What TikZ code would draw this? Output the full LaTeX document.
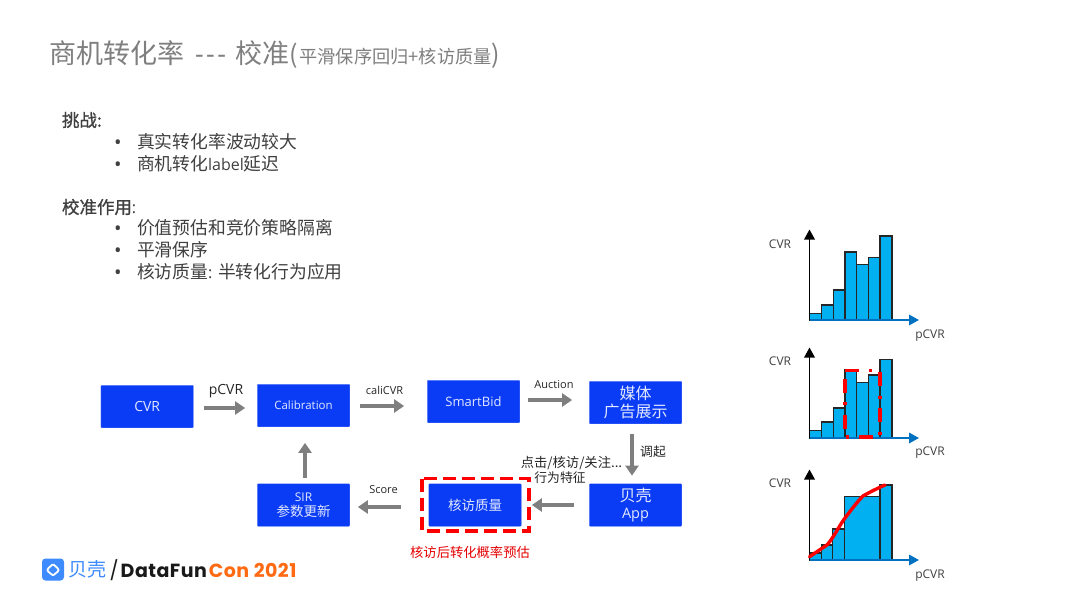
\documentclass[tikz,border=0pt]{standalone}
\usepackage{fontspec}
\setmainfont{Open Sans}
\newfontfamily\cjk{Noto Sans CJK SC}
\newfontfamily\logofont{Poppins}
\usetikzlibrary{arrows.meta,calc}
\definecolor{boxblue}{HTML}{0B3CF5}
\definecolor{barblue}{HTML}{00B0F0}
\definecolor{axisblue}{HTML}{0070C0}
\definecolor{flowgray}{HTML}{7F7F7F}
\definecolor{titlegray}{HTML}{7F7F7F}
\definecolor{bodygray}{HTML}{404040}
\definecolor{logoblue}{HTML}{3D8BFF}
\definecolor{logoorange}{HTML}{FF6A13}
\newcommand{\fs}[1]{\fontsize{#1}{#1}\selectfont}
\tikzset{
  x=1pt,y=-1pt,
  txt/.style={inner sep=0pt,outer sep=0pt,anchor=west,text=bodygray},
  lab/.style={inner sep=0pt,outer sep=0pt,text=black!85},
  flowbox/.style={fill=boxblue,draw=boxblue!70!white,line width=0.3pt,rounded corners=0.8pt,minimum width=92.5pt,minimum height=42.5pt,inner sep=0pt,text=white!88!boxblue,align=center},
  flow/.style={draw=flowgray,line width=3.2pt,-{Triangle[length=10pt,width=13pt]}},
  bar/.style={fill=barblue,draw=black!85,line width=1.2pt},
  yax/.style={draw=black,line width=1.8pt,-{Triangle[length=10pt,width=10.5pt]}},
  xax/.style={draw=axisblue,line width=1.8pt,-{Triangle[length=10pt,width=10.5pt]}},
  axl/.style={inner sep=0pt,outer sep=0pt,text=bodygray,font=\fs{12}},
  bul/.style={inner sep=0pt,outer sep=0pt,anchor=base,text=bodygray,font=\fs{20}},
}
\begin{document}
\begin{tikzpicture}
\useasboundingbox (0,0) rectangle (1080,608);
\fill[white] (0,0) rectangle (1080,608);
% title
\node[txt,text=titlegray] (title) at (49,55) {\fs{27}\cjk 商机转化率\hspace{11pt}\rmfamily -\hspace{2.5pt}-\hspace{2.5pt}-\hspace{9pt}\cjk 校准\fs{25}(\hspace{2pt}\fs{18.2}平滑保序回归+核访质量\fs{25})};
% body text
\node[txt] (h1) at (62,120) {\fs{17.5}\cjk\addfontfeature{FakeBold=1}挑战:};
\node[bul] (b1) at (118,149) {•};
\node[txt] (t1) at (137,142) {\fs{17.8}\cjk 真实转化率波动较大};
\node[bul] (b2) at (118,171) {•};
\node[txt] (t2) at (137,164) {\fs{17.8}\cjk 商机转化\rmfamily\fs{16}label\cjk\fs{17.8}延迟};
\node[txt] (h2) at (62,207) {\fs{17.5}\cjk\addfontfeature{FakeBold=1}校准作用\rmfamily\fs{16}:};
\node[bul] (b3) at (118,235) {•};
\node[txt] (t3) at (137,228) {\fs{17.8}\cjk 价值预估和竞价策略隔离};
\node[bul] (b4) at (118,257) {•};
\node[txt] (t4) at (137,250) {\fs{17.8}\cjk 平滑保序};
\node[bul] (b5) at (118,279) {•};
\node[txt] (t5) at (137,272) {\fs{17.8}\cjk 核访质量\rmfamily\fs{16}: \cjk\fs{17.8}半转化行为应用};
% flow boxes
\node[flowbox] (cvr) at (147.2,406.5) {\raisebox{-1pt}{\fs{14}CVR}};
\node[flowbox] (cal) at (303.5,405.5) {\raisebox{-1pt}{\fs{11.5}Calibration}};
\node[flowbox] (smart) at (473.5,401.5) {\raisebox{-1.5pt}{\fs{13}SmartBid}};
\node[flowbox] (media) at (635.5,402.5) {\fs{16}\cjk 媒体\\[3pt]\fs{16}\cjk 广告展示};
\node[flowbox] (app) at (635.5,505) {\fs{16}\cjk 贝壳\\[5pt]\fs{14.5}\rmfamily App};
\node[flowbox] (qual) at (475,505) {\fs{13.5}\cjk 核访质量};
\node[flowbox] (sir) at (303.5,505) {\fs{12}SIR\\[3pt]\fs{13.5}\cjk 参数更新};
% dashed highlight
\draw[red,line width=3.5pt,dash pattern=on 13pt off 6pt] (422,478.5) rectangle (529,531);
% connectors
\draw[flow,shorten <=10pt,shorten >=12pt] ([yshift=-1.5pt]cvr.east) -- ([yshift=-1.5pt]cvr.east -| cal.west);
\draw[flow,shorten <=10pt,shorten >=23pt] ([yshift=-.5pt]cal.east) -- ([yshift=-.5pt]cal.east -| smart.west);
\draw[flow,shorten <=8pt,shorten >=17pt] ([yshift=1.5pt]smart.east) -- ([yshift=1.5pt]smart.east -| media.west);
\draw[flow,shorten <=10pt,shorten >=8pt] ([xshift=-3.5pt]media.south) -- ([xshift=-3.5pt]media.south |- app.north);
\draw[flow,shorten <=15pt,shorten >=10.5pt] (app.west) -- (app.west -| qual.east);
\draw[flow,shorten <=28pt,shorten >=8pt] ([yshift=-2pt]qual.west) -- ([yshift=-2pt]qual.west -| sir.east);
\draw[flow,shorten <=6pt,shorten >=16pt] ([xshift=1.5pt]sir.north) -- ([xshift=1.5pt]sir.north |- cal.south);
% flow labels
\node[lab] (l1) at (226,391) {\fs{14}pCVR};
\node[lab] (l2) at (384.5,390) {\fs{11}caliCVR};
\node[lab] (l3) at (554,385) {\fs{11}Auction};
\node[lab] (l4) at (383.5,490) {\fs{11}Score};
\node[lab] (l5) at (653,452) {\fs{12.8}\cjk 调起};
\node[lab] (l6) at (571.5,463) {\fs{13.3}\cjk 点击/核访/关注...};
\node[lab] (l7) at (560,478) {\fs{12.8}\cjk 行为特征};
\node[lab,text=red!90!black] (l8) at (470,552) {\fs{13.3}\cjk 核访后转化概率预估};
% chart 1
\foreach \a/\b/\t in {809.5/821.3/313.3,821.3/833.3/305,833.3/845/290,845/856.7/252,856.7/868.3/264.3,868.3/880/257.7,880/892/236}
  \draw[bar] (\a,320) rectangle (\b,\t);
\coordinate (o1) at (809.5,320);
\draw[xax] (o1) -- (919,320);
\draw[yax] (o1) -- (809.5,229.5);
\node[axl] (c1) at (780,244) {CVR};
\node[axl] (p1) at (930,336) {pCVR};
% chart 2
\foreach \a/\b/\t in {809.5/821.3/430.7,821.3/833.3/422,833.3/845/408,845/856.7/370,856.7/868.3/382.3,868.3/880/375,880/892/359.3}
  \draw[bar] (\a,438) rectangle (\b,\t);
\coordinate (o2) at (809.5,438);
\draw[xax] (o2) -- (919,438);
\draw[yax] (o2) -- (809.5,347.5);
\node[axl] (c2) at (780,361) {CVR};
\node[axl] (p2) at (930,453) {pCVR};
\draw[red,line width=3.2pt,dash pattern=on 14pt off 10pt on 3pt off 9pt] (845,370.7) -- (880,370.7) -- (880,437) -- (845,437) -- cycle;
% chart 3
\foreach \a/\b/\t in {809.5/821.3/553,821.3/832.7/545,832.7/844.5/529,844.5/880/496.7,880/892/485}
  \draw[bar] (\a,560) rectangle (\b,\t);
\coordinate (o3) at (809.5,560);
\draw[xax] (o3) -- (919,560);
\draw[yax] (o3) -- (809.5,469.5);
\node[axl] (c3) at (780,483) {CVR};
\node[axl] (p3) at (930,576) {pCVR};
\draw[red,line width=3.4pt,line cap=round] (809.5,556.7) .. controls (815,553) and (821,549) .. (827,545) .. controls (834,537) and (839,526) .. (845,518) .. controls (851,510) and (858,501) .. (863,496) .. controls (870,492) and (878,488) .. (885,485);
% logo
\fill[logoblue,rounded corners=3.5pt] (42,558.5) rectangle (64,580.5);
\draw[white,line width=1.8pt,line join=round,rounded corners=1pt] (47.5,569) -- (53,564) -- (58.5,569) -- (58.5,571) -- (53,575.5) -- (47.5,571) -- cycle;
\node[inner sep=0pt,text=logoblue,anchor=west] (lg1) at (68,569.5) {\fs{19}\cjk 贝壳};
\node[inner sep=0pt,text=black!90,anchor=west] (lg2) at (109.5,570) {\fs{19}\logofont\addfontfeature{LetterSpace=2.5}/\hspace{2pt}\bfseries DataFun\textcolor{logoorange}{\hspace{2pt}Con 2021}};
\end{tikzpicture}
\end{document}
